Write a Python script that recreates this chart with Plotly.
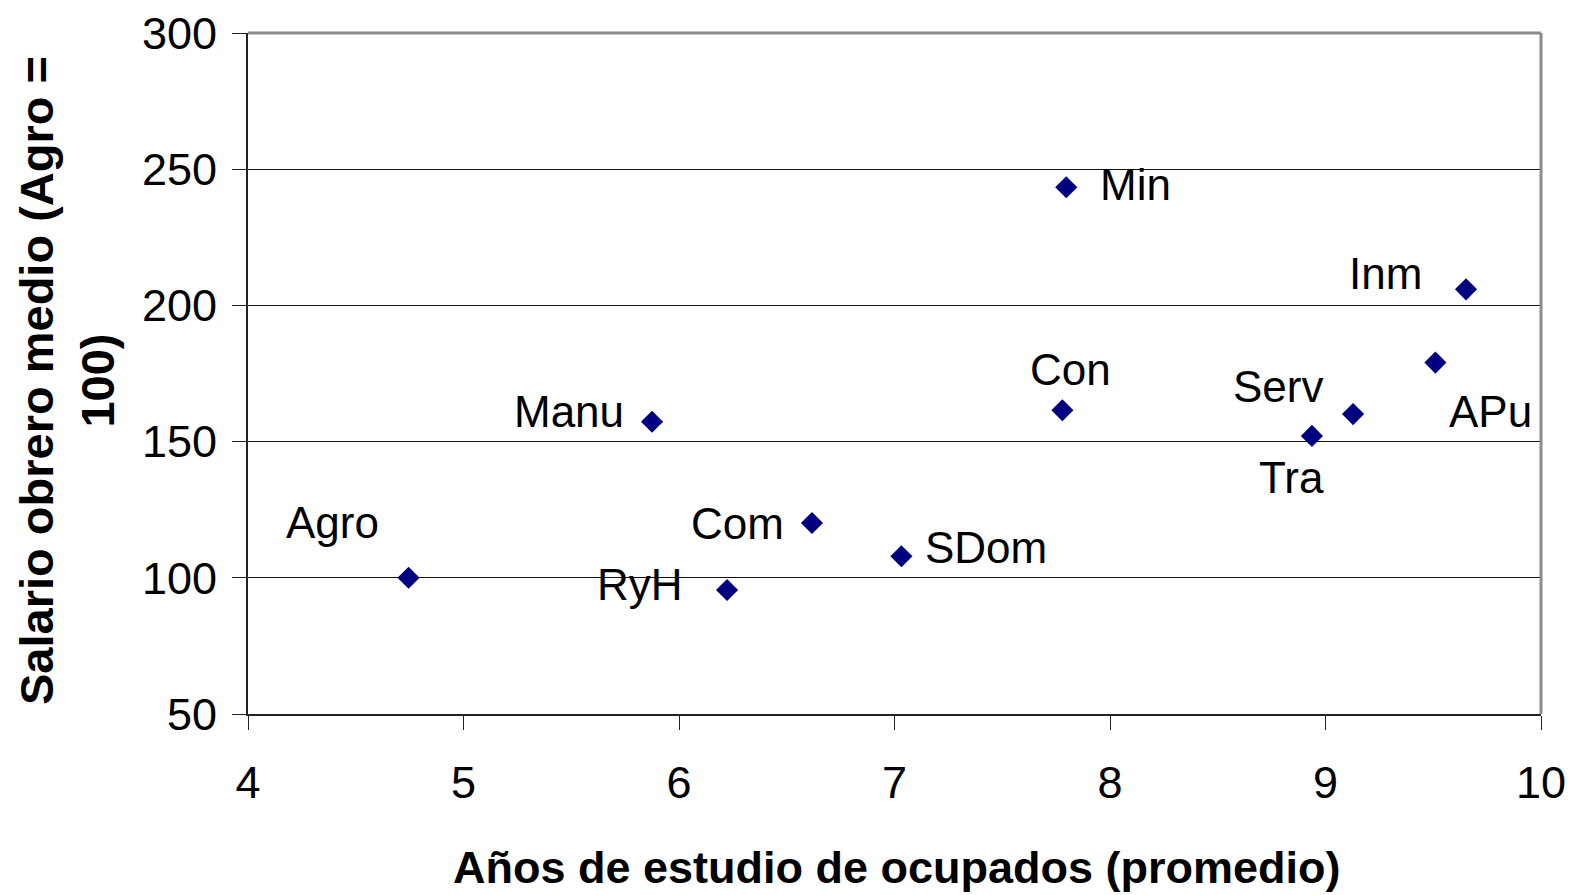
import plotly.graph_objects as go

sectors = ["Agro", "Manu", "RyH", "Com", "SDom", "Con", "Min", "Tra", "Serv", "APu", "Inm"]
years = [4.745, 5.875, 6.223, 6.617, 7.032, 7.779, 7.797, 8.937, 9.128, 9.510, 9.652]
wage = [100.0, 157.3, 95.5, 120.1, 107.9, 161.5, 243.4, 152.1, 160.1, 179.0, 205.9]
# label offsets in pixels (dx, dy) relative to the marker, screen y downward
label_dx = [-76, -83, -87, -74, 85, 8, 69, -20, -75, 55, -81]
label_dy = [-55, -10, -6, 0, -9, -41, -3, 42, -28, 49, -16]

FONT = "Liberation Sans, Arial, sans-serif"
OFF = 8  # page body margin
W, H = 1577 - OFF, 895 - OFF
ML, MR, MT, MB = 248 - OFF, 36, 33 - OFF, 181

fig = go.Figure()
fig.add_trace(go.Scatter(
    x=years, y=wage, mode="markers",
    marker=dict(symbol="diamond", size=17, color="#000080", line=dict(width=0)),
    hoverinfo="text", text=sectors, showlegend=False,
))

for s, xv, yv, dx, dy in zip(sectors, years, wage, label_dx, label_dy):
    fig.add_annotation(x=xv, y=yv, text=s, showarrow=False,
                       xshift=dx, yshift=-dy,
                       font=dict(family=FONT, size=44, color="black"))

# axis titles as paper annotations (positions in page pixels)
pw, ph = W - ML - MR, H - MT - MB
def px(xp):
    return (xp - OFF - ML) / pw
def py(yp):
    return (H - MB - (yp - OFF)) / ph

fig.add_annotation(xref="paper", yref="paper", x=px(897), y=py(867),
                   xanchor="center", yanchor="middle",
                   text="<b>Años de estudio de ocupados (promedio)</b>",
                   showarrow=False, font=dict(family=FONT, size=45, color="black"))
fig.add_annotation(xref="paper", yref="paper", x=px(67), y=py(381),
                   xanchor="center", yanchor="middle", borderpad=0,
                   text="<b>Salario obrero medio (Agro =<br>100)</b>", textangle=-90,
                   showarrow=False, font=dict(family=FONT, size=47, color="black"))

fig.update_layout(
    width=W, height=H,
    margin=dict(l=ML, r=MR, t=MT, b=MB),
    paper_bgcolor="white", plot_bgcolor="white",
    font=dict(family=FONT, color="black"),
    xaxis=dict(range=[4, 10], dtick=1, tick0=4, showgrid=False, zeroline=False,
               automargin=False, ticklabeloverflow="allow",
               showline=True, linecolor="#222222", linewidth=2,
               ticks="outside", ticklen=14, tickcolor="#222222", tickwidth=1,
               ticklabelstandoff=14,
               tickfont=dict(size=45, family=FONT)),
    yaxis=dict(range=[50, 300], dtick=50, tick0=50, showgrid=True, gridcolor="#111111",
               gridwidth=1, zeroline=False, automargin=False, ticklabeloverflow="allow",
               showline=True, linecolor="#222222", linewidth=2,
               ticks="outside", ticklen=14, tickcolor="#222222", tickwidth=1,
               ticklabelstandoff=6,
               tickfont=dict(size=45, family=FONT)),
)

# gray frame on top and right
fig.add_shape(type="line", xref="x domain", yref="y domain", x0=0, x1=1, y0=1, y1=1,
              line=dict(color="#8c8c8c", width=3))
fig.add_shape(type="line", xref="x domain", yref="y domain", x0=1, x1=1, y0=0, y1=1,
              line=dict(color="#8c8c8c", width=3))

fig.write_html("out.html")
